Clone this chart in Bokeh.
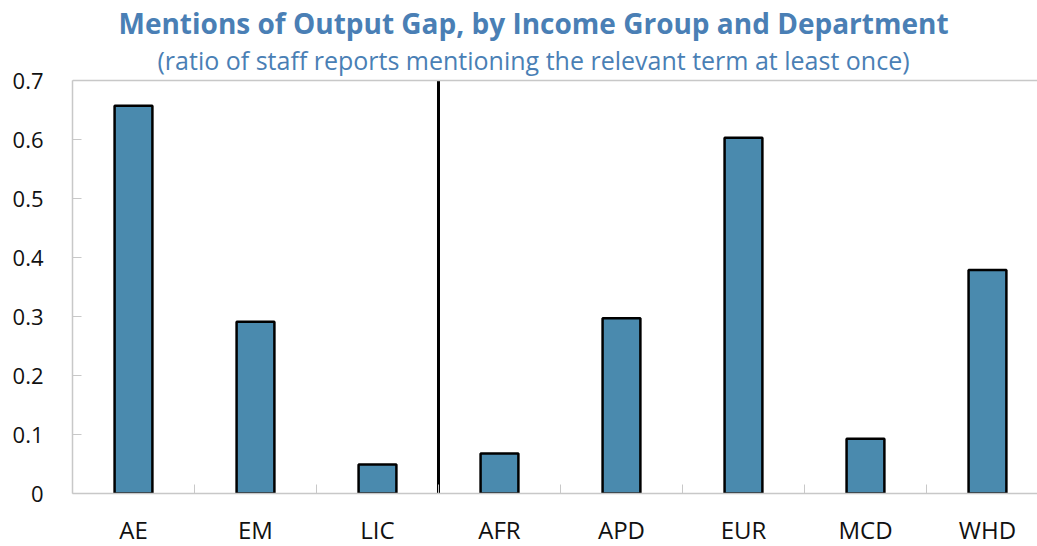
from bokeh.plotting import figure
from bokeh.models import FixedTicker, Span, Label, ColumnDataSource, Range1d
from bokeh.embed import file_html
from bokeh.resources import INLINE

categories = ["AE", "EM", "LIC", "AFR", "APD", "EUR", "MCD", "WHD"]
values = [0.657, 0.291, 0.049, 0.068, 0.297, 0.603, 0.093, 0.379]
y_ticks = [0, 0.1, 0.2, 0.3, 0.4, 0.5, 0.6, 0.7]
title_text = "Mentions of Output Gap, by Income Group and Department"
subtitle_text = "(ratio of staff reports mentioning the relevant term at least once)"

FONT = "Open Sans"
BLUE = "#4a7fb5"
GRAY = "#c8c8c8"

xs = [i + 0.5 for i in range(len(categories))]
divider_x = 3  # boundary between income groups and departments
y_max = y_ticks[-1]
src = ColumnDataSource(dict(x=xs, top=values, cat=categories))

# frame covers the title area too; the axis stops at 0.7
p = figure(frame_width=965, frame_height=493, output_backend="svg", toolbar_location=None,
           x_range=Range1d(0, 7.91), y_range=Range1d(0, 0.8356),
           min_border_left=72, min_border_right=0, min_border_top=0, min_border_bottom=0)
p.outline_line_color = None
p.grid.visible = False
p.background_fill_color = "white"
p.border_fill_color = "white"

# top border of the plot area
p.add_layout(Span(location=y_max, dimension="width", line_color=GRAY, line_width=1.5))

p.vbar(x="x", top="top", width=0.31, source=src, fill_color="#4a8aae",
       line_color="black", line_width=2.5)

p.segment(x0=[divider_x], y0=[0], x1=[divider_x], y1=[y_max], line_color="black", line_width=3)

# y axis
p.yaxis.bounds = (0, y_max)
p.yaxis.ticker = FixedTicker(ticks=y_ticks, minor_ticks=[])
p.yaxis.major_label_overrides = {0: "0"}
p.yaxis.axis_line_color = GRAY
p.yaxis.axis_line_width = 1.5
p.yaxis.major_tick_line_color = GRAY
p.yaxis.major_tick_in = 9
p.yaxis.major_tick_out = 0
p.yaxis.major_label_standoff = 29
p.yaxis.major_label_text_font = FONT
p.yaxis.major_label_text_font_size = "22px"
p.yaxis.major_label_text_color = "#111111"

# x axis
p.xaxis.ticker = FixedTicker(ticks=xs, minor_ticks=[1, 2, 3, 4, 5, 6, 7])
p.xaxis.major_label_overrides = {x: c for x, c in zip(xs, categories)}
p.xaxis.axis_line_color = GRAY
p.xaxis.axis_line_width = 1.5
p.xaxis.major_tick_in = 0
p.xaxis.major_tick_out = 0
p.xaxis.minor_tick_line_color = GRAY
p.xaxis.minor_tick_in = 9
p.xaxis.minor_tick_out = 0
p.xaxis.major_label_standoff = 19
p.xaxis.major_label_text_font = FONT
p.xaxis.major_label_text_font_size = "24px"
p.xaxis.major_label_text_color = "#111111"

p.add_layout(Label(x=3.779, y=0.798, text=title_text, text_align="center",
                   text_baseline="middle", text_font=FONT, text_font_size="28px",
                   text_font_style="bold", text_color=BLUE))
p.add_layout(Label(x=3.779, y=0.734, text=subtitle_text, text_align="center",
                   text_baseline="middle", text_font=FONT, text_font_size="25px",
                   text_color=BLUE))

open("out.html", "w").write(file_html(p, INLINE))
